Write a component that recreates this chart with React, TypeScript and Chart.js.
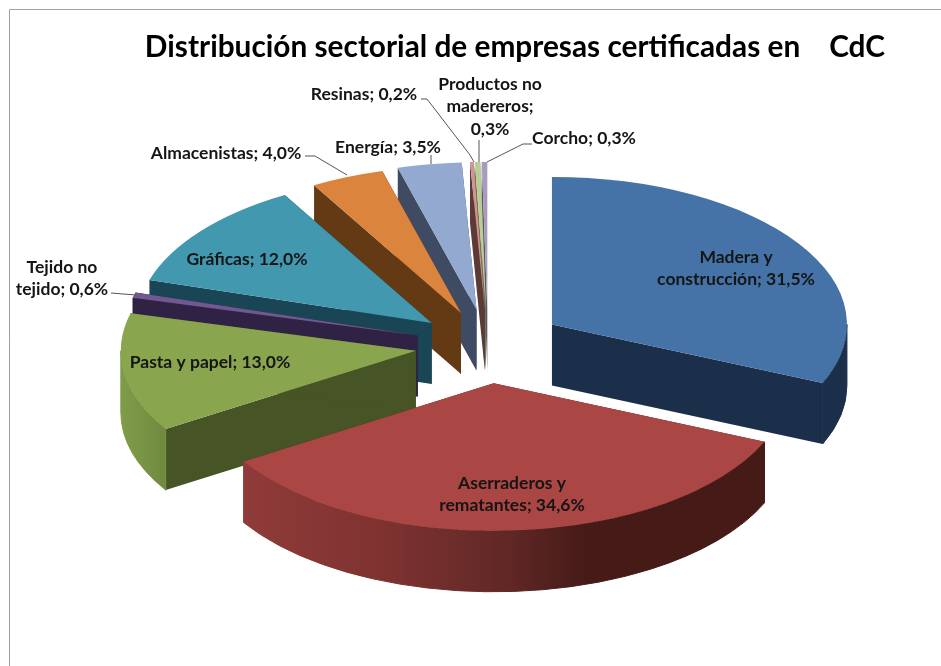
import React, { useEffect, useRef } from "react";
import { Chart, registerables } from "chart.js";

Chart.register(...registerables);

const titleText = "Distribución sectorial de empresas certificadas en    CdC";
const categories = [
  "Madera y construcción",
  "Aserraderos y rematantes",
  "Pasta y papel",
  "Tejido no tejido",
  "Gráficas",
  "Almacenistas",
  "Energía",
  "Resinas",
  "Productos no madereros",
  "Corcho",
];
const shares = [31.5, 34.6, 13.0, 0.6, 12.0, 4.0, 3.5, 0.2, 0.3, 0.3];
const topColors = ["#4572A7", "#AA4643", "#89A54E", "#71588F", "#4198AF", "#DB843D", "#93A9CF", "#D19392", "#B9CD96", "#A99BBD"];
const faceColors = ["#1B2F4B", "#451A17", "#465426", "#2F2245", "#1A4554", "#633A14", "#3F4B63", "#5C3A38", "#6B7A50", "#5E5370"];

// Look of the 3D pie
const TILT = 0.5;
const DEPTH = 61;
const RADIUS = 295;
const explode = [76.5, 76, 73, 73, 72, 70, 72, 72, 72, 72];
const paintOrder = [9, 8, 7, 6, 5, 4, 3, 2, 0, 1];
const wallGradients: Record<number, [number, string][]> = {
  0: [[0, "#1B2F4B"], [1, "#1B2F4B"]],
  1: [[0, "#8F3B39"], [0.25, "#803331"], [0.5, "#622826"], [0.66, "#451A17"], [1, "#451A17"]],
  2: [[0, "#7F9C4A"], [1, "#6F8A3E"]],
};

// Where each label goes: wrapped lines, centre x, first-line y
const labelLines = [
  ["Madera y", "construcción;"],
  ["Aserraderos y", "rematantes;"],
  ["Pasta y papel;"],
  ["Tejido no", "tejido;"],
  ["Gráficas;"],
  ["Almacenistas;"],
  ["Energía;"],
  ["Resinas;"],
  ["Productos no", "madereros;", ""],
  ["Corcho;"],
];
const labelX = [736, 512, 210, 62, 247, 226, 388, 364, 490, 584];
const labelY = [257, 483, 362, 267, 259, 153, 147, 94, 84, 138];
const labelGap = 22.5;
const leaders: number[][][] = [
  [],
  [],
  [],
  [[111, 293], [136, 295]],
  [],
  [[305, 156], [315, 156], [347, 175]],
  [[431, 155], [431, 164]],
  [[421, 99], [427, 99], [470, 155], [474, 162]],
  [[479, 140], [479, 162]],
  [[532, 144], [523, 144], [487, 162]],
];
const LABEL_FONT = "bold 17.5px Lato, 'Noto Sans', sans-serif";

const pct = (v: number) => `${v.toFixed(1).replace(".", ",")}%`;

const pie3d = {
  id: "pie3d",
  beforeDraw(chart: any) {
    const { ctx, width, height } = chart;
    ctx.save();
    ctx.fillStyle = "#ffffff";
    ctx.fillRect(0, 0, width, height);
    ctx.strokeStyle = "#A0A0A0";
    ctx.lineWidth = 1;
    ctx.beginPath();
    ctx.moveTo(9.5, height);
    ctx.lineTo(9.5, 9.5);
    ctx.lineTo(width, 9.5);
    ctx.stroke();
    ctx.restore();
  },
  beforeDatasetsDraw(chart: any) {
    const { ctx } = chart;
    const arcs = chart.getDatasetMeta(0).data;
    for (const i of paintOrder) {
      const arc = arcs[i];
      const { x, y, startAngle, endAngle, outerRadius } = arc.getProps(["x", "y", "startAngle", "endAngle", "outerRadius"]);
      const mid = (startAngle + endAngle) / 2;
      const ox = explode[i] * Math.cos(mid);
      const oy = explode[i] * Math.sin(mid) * TILT;
      const ax = x + ox;
      const ay = y + oy;

      // radial cut faces
      ctx.fillStyle = faceColors[i];
      for (const t of [startAngle, endAngle]) {
        const px = ax + outerRadius * Math.cos(t);
        const py = ay + outerRadius * TILT * Math.sin(t);
        ctx.beginPath();
        ctx.moveTo(ax, ay);
        ctx.lineTo(px, py);
        ctx.lineTo(px, py + DEPTH);
        ctx.lineTo(ax, ay + DEPTH);
        ctx.closePath();
        ctx.fill();
      }

      // rim, only where it faces the viewer
      const t0 = Math.max(startAngle, 0);
      const t1 = Math.min(endAngle, Math.PI);
      if (t1 > t0) {
        const xa = ax + outerRadius * Math.cos(t1);
        const xb = ax + outerRadius * Math.cos(t0);
        const g = ctx.createLinearGradient(xa, 0, xb, 0);
        for (const [s, c] of wallGradients[i] || [[0, faceColors[i]], [1, faceColors[i]]]) g.addColorStop(s as number, c as string);
        ctx.fillStyle = g;
        ctx.strokeStyle = g;
        ctx.lineWidth = 1;
        ctx.beginPath();
        ctx.ellipse(ax, ay, outerRadius, outerRadius * TILT, 0, t0, t1);
        ctx.ellipse(ax, ay + DEPTH, outerRadius, outerRadius * TILT, 0, t1, t0, true);
        ctx.closePath();
        ctx.fill();
        ctx.stroke();
      }

      // top face: the library's own arc, squashed and moved out
      ctx.save();
      ctx.translate(ax, ay);
      ctx.scale(1, TILT);
      ctx.translate(-x, -y);
      arc.draw(ctx);
      ctx.restore();
    }
    return false;
  },
  afterDraw(chart: any) {
    const { ctx } = chart;
    ctx.save();
    ctx.strokeStyle = "#555555";
    ctx.lineWidth = 1;
    leaders.forEach((pts) => {
      if (!pts.length) return;
      ctx.beginPath();
      pts.forEach(([px, py], k) => (k ? ctx.lineTo(px, py) : ctx.moveTo(px, py)));
      ctx.stroke();
    });
    ctx.font = LABEL_FONT;
    ctx.fillStyle = "#151515";
    ctx.textAlign = "center";
    ctx.textBaseline = "middle";
    categories.forEach((_, i) => {
      const lines = labelLines[i].slice();
      const value = pct(shares[i]);
      const last = lines.length - 1;
      lines[last] = lines[last] ? `${lines[last]} ${value}` : value;
      lines.forEach((line, k) => ctx.fillText(line, labelX[i], labelY[i] + k * labelGap));
    });
    ctx.restore();
  },
};

export default function App() {
  const ref = useRef<HTMLCanvasElement>(null);
  useEffect(() => {
    const chart = new Chart(ref.current as HTMLCanvasElement, {
      type: "pie",
      data: {
        labels: categories,
        datasets: [{ data: shares, backgroundColor: topColors, borderWidth: 0 }],
      },
      options: {
        responsive: false,
        animation: false,
        radius: RADIUS,
        layout: { padding: { left: 91, right: 56, top: 30, bottom: 41 } },
        plugins: {
          legend: { display: false },
          tooltip: { enabled: false },
          title: {
            display: true,
            text: titleText,
            align: "end",
            color: "#000000",
            font: { family: "Lato, 'Noto Sans', sans-serif", size: 29.8, weight: "bold" },
            padding: { top: 0, bottom: 0 },
          },
        },
      } as any,
      plugins: [pie3d],
    });
    return () => chart.destroy();
  }, []);
  return (
    <div style={{ position: "fixed", left: 0, top: 0, width: 941, height: 666 }}>
      <canvas ref={ref} width={941} height={666} style={{ display: "block" }} />
    </div>
  );
}
